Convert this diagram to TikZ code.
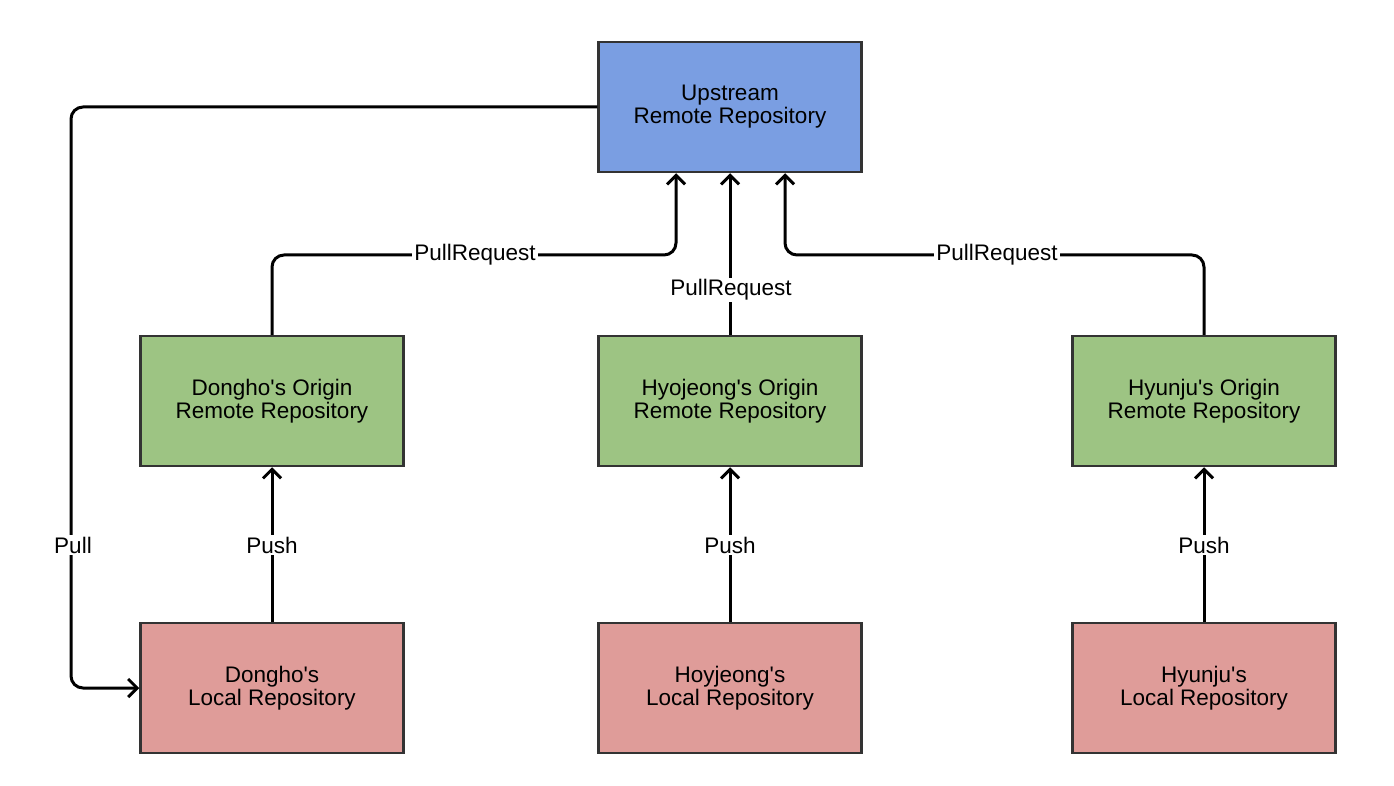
\documentclass[tikz,border=0pt]{standalone}
\usepackage{fontspec}
\setmainfont{Liberation Sans}[Ligatures=TeXOff]
\usetikzlibrary{arrows.meta}
\definecolor{upblue}{RGB}{122,158,226}
\definecolor{orgreen}{RGB}{157,196,131}
\definecolor{lored}{RGB}{223,156,153}
\definecolor{edgegray}{RGB}{51,51,51}
\begin{document}
\begin{tikzpicture}[x=1pt,y=-1pt,
  repo/.style={draw=edgegray, line width=2.5pt, minimum width=263pt, minimum height=130pt,
    align=center, inner sep=0pt, font=\fontsize{22.5}{23}\selectfont},
  conn/.style={line width=3pt, rounded corners=12pt},
  arr/.style={conn, -{Straight Barb[length=9pt,width=18pt,line width=3pt]}},
  lbl/.style={fill=white, inner sep=2pt, font=\fontsize{22.5}{23}\selectfont}]
\useasboundingbox[fill=white] (0,0) rectangle (1394,786);
\node[repo, fill=upblue] (up) at (730,107) {Upstream\\Remote Repository};
\node[repo, fill=orgreen] (dg) at (272,401) {Dongho's Origin\\Remote Repository};
\node[repo, fill=orgreen] (hg) at (730,401) {Hyojeong's Origin\\Remote Repository};
\node[repo, fill=orgreen] (jg) at (1204,401) {Hyunju's Origin\\Remote Repository};
\node[repo, fill=lored] (dl) at (272,688) {Dongho's\\Local Repository};
\node[repo, fill=lored] (hl) at (730,688) {Hoyjeong's\\Local Repository};
\node[repo, fill=lored] (jl) at (1204,688) {Hyunju's\\Local Repository};
\coordinate (a1) at (676,255);
\coordinate (a3) at (785,255);
\coordinate (pc) at (71,400);
\draw[arr] (dg.north) |- (a1) -- (a1 |- up.south);
\draw[arr] (jg.north) |- (a3) -- (a3 |- up.south);
\draw[arr] (hg.north) -- (up.south);
\draw[arr] (dl.north) -- (dg.south);
\draw[arr] (hl.north) -- (hg.south);
\draw[arr] (jl.north) -- (jg.south);
\draw[arr] (up.west) -| (pc) |- (dl.west);
\node[lbl] (l1) at (475,255) {PullRequest};
\node[lbl] (l2) at (731,290) {PullRequest};
\node[lbl] (l3) at (997,255) {PullRequest};
\node[lbl] (p1) at (272,545) {Push};
\node[lbl] (p2) at (730,545) {Push};
\node[lbl] (p3) at (1204,545) {Push};
\node[lbl] (pl) at (73,545) {Pull};
\end{tikzpicture}
\end{document}
